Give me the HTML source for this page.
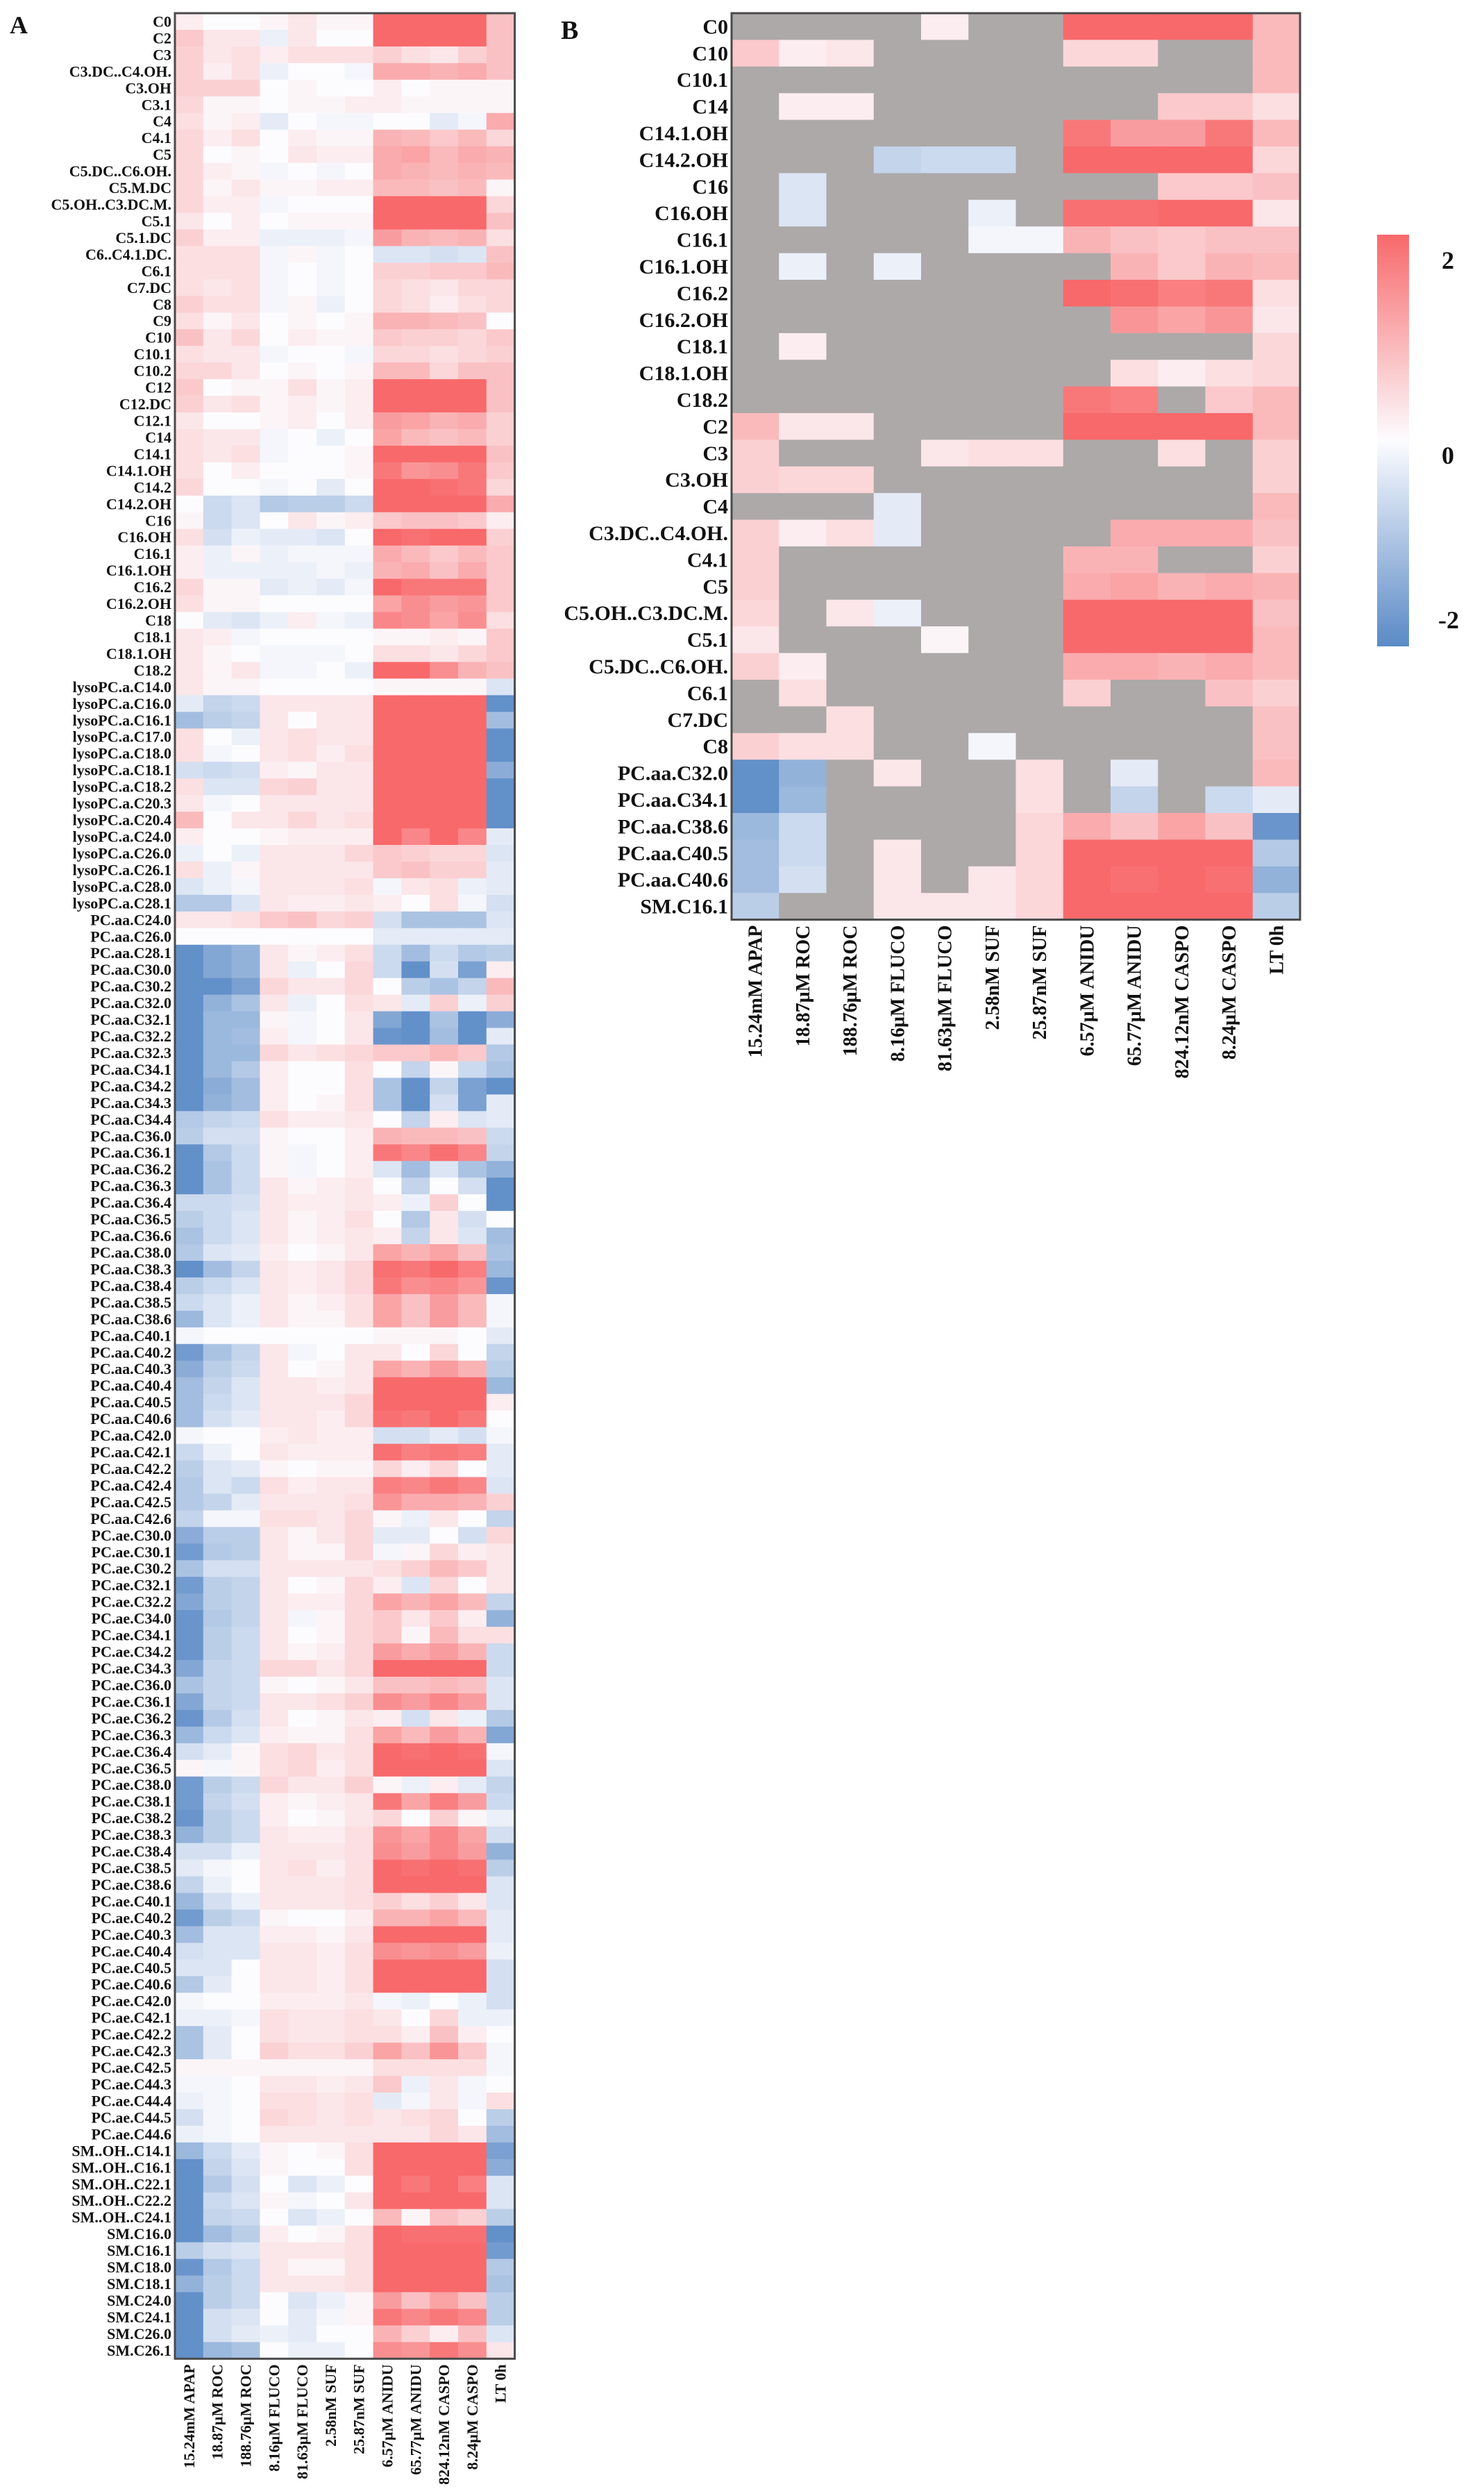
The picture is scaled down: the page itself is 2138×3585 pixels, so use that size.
<!DOCTYPE html>
<html><head><meta charset="utf-8"><style>
html,body{margin:0;padding:0;background:#fff;}
svg{display:block;}
text{font-family:"Liberation Serif",serif;font-weight:bold;fill:#111;}
</style></head><body>
<svg id="fig" width="2138" height="3585" viewBox="0 0 2138 3585" xmlns="http://www.w3.org/2000/svg">
<text x="14" y="48" font-size="36">A</text>
<text x="808" y="56" font-size="38">B</text>
<defs><linearGradient id="cbg" x1="0" y1="0" x2="0" y2="1">
<stop offset="0" stop-color="rgb(248,105,107)"/><stop offset="0.5" stop-color="rgb(252,252,255)"/><stop offset="1" stop-color="rgb(90,138,198)"/></linearGradient></defs>
<g>
<rect x="1984" y="338" width="46" height="593" fill="url(#cbg)"/>
<text x="2077" y="387" font-size="36">2</text>
<text x="2077" y="668" font-size="36">0</text>
<text x="2072" y="905" font-size="36">-2</text>
</g>
<g id="panelA"></g>
<g id="panelB"></g>
</svg>
<script>
const columns = ["15.24mM APAP","18.87µM ROC","188.76µM ROC","8.16µM FLUCO","81.63µM FLUCO","2.58nM SUF","25.87nM SUF","6.57µM ANIDU","65.77µM ANIDU","824.12nM CASPO","8.24µM CASPO","LT 0h"];
const rowsA = ["C0","C2","C3","C3.DC..C4.OH.","C3.OH","C3.1","C4","C4.1","C5","C5.DC..C6.OH.","C5.M.DC","C5.OH..C3.DC.M.","C5.1","C5.1.DC","C6..C4.1.DC.","C6.1","C7.DC","C8","C9","C10","C10.1","C10.2","C12","C12.DC","C12.1","C14","C14.1","C14.1.OH","C14.2","C14.2.OH","C16","C16.OH","C16.1","C16.1.OH","C16.2","C16.2.OH","C18","C18.1","C18.1.OH","C18.2",
"lysoPC.a.C14.0","lysoPC.a.C16.0","lysoPC.a.C16.1","lysoPC.a.C17.0","lysoPC.a.C18.0","lysoPC.a.C18.1","lysoPC.a.C18.2","lysoPC.a.C20.3","lysoPC.a.C20.4","lysoPC.a.C24.0","lysoPC.a.C26.0","lysoPC.a.C26.1","lysoPC.a.C28.0","lysoPC.a.C28.1",
"PC.aa.C24.0","PC.aa.C26.0","PC.aa.C28.1","PC.aa.C30.0","PC.aa.C30.2","PC.aa.C32.0","PC.aa.C32.1","PC.aa.C32.2","PC.aa.C32.3","PC.aa.C34.1","PC.aa.C34.2","PC.aa.C34.3","PC.aa.C34.4","PC.aa.C36.0","PC.aa.C36.1","PC.aa.C36.2","PC.aa.C36.3","PC.aa.C36.4","PC.aa.C36.5","PC.aa.C36.6","PC.aa.C38.0","PC.aa.C38.3","PC.aa.C38.4","PC.aa.C38.5","PC.aa.C38.6","PC.aa.C40.1","PC.aa.C40.2","PC.aa.C40.3","PC.aa.C40.4","PC.aa.C40.5","PC.aa.C40.6","PC.aa.C42.0","PC.aa.C42.1","PC.aa.C42.2","PC.aa.C42.4","PC.aa.C42.5","PC.aa.C42.6",
"PC.ae.C30.0","PC.ae.C30.1","PC.ae.C30.2","PC.ae.C32.1","PC.ae.C32.2","PC.ae.C34.0","PC.ae.C34.1","PC.ae.C34.2","PC.ae.C34.3","PC.ae.C36.0","PC.ae.C36.1","PC.ae.C36.2","PC.ae.C36.3","PC.ae.C36.4","PC.ae.C36.5","PC.ae.C38.0","PC.ae.C38.1","PC.ae.C38.2","PC.ae.C38.3","PC.ae.C38.4","PC.ae.C38.5","PC.ae.C38.6","PC.ae.C40.1","PC.ae.C40.2","PC.ae.C40.3","PC.ae.C40.4","PC.ae.C40.5","PC.ae.C40.6","PC.ae.C42.0","PC.ae.C42.1","PC.ae.C42.2","PC.ae.C42.3","PC.ae.C42.5","PC.ae.C44.3","PC.ae.C44.4","PC.ae.C44.5","PC.ae.C44.6",
"SM..OH..C14.1","SM..OH..C16.1","SM..OH..C22.1","SM..OH..C22.2","SM..OH..C24.1","SM.C16.0","SM.C16.1","SM.C18.0","SM.C18.1","SM.C24.0","SM.C24.1","SM.C26.0","SM.C26.1"];
const valsA = [
[.2,0,0,.1,.3,.1,.1,2,2,2,2,.8],[.7,.3,.3,-.2,.3,0,0,2,2,2,2,.8],[.6,.3,.4,.2,.4,.4,.4,.6,.4,.3,.6,.8],[.6,.2,.4,-.2,0,0,-.1,1.1,1.1,1,1.1,.8],[.6,.6,.6,0,.1,0,0,.2,0,.1,.1,.1],[.5,.1,.1,0,.1,.1,.2,.2,.1,.1,.1,.1],[.4,.1,.2,-.3,0,-.1,-.1,0,0,-.3,-.1,1.1],[.5,.2,.4,0,.2,.1,.1,1,.9,.7,.9,.5],[.5,0,.1,0,.3,.2,.2,1.1,1.2,.9,1.1,1],[.5,.2,.1,-.1,0,-.1,0,1.1,1,.9,1,.9],[.5,.1,.3,.1,.1,.2,.2,.9,.9,.8,.9,.1],[.5,.2,.2,-.1,0,0,0,2,2,2,2,.5],[.3,0,.2,0,.1,.1,.1,2,2,2,2,.8],[.6,.2,.2,-.2,-.2,-.2,-.1,1.3,1,.9,1,.4],[.4,.4,.4,-.1,.1,-.1,0,-.4,-.4,-.5,-.4,.8],[.4,.4,.4,-.1,0,-.1,0,.6,.6,.7,.7,.9],[.4,.3,.4,-.1,0,-.1,0,.5,.4,.3,.5,.5],[.6,.4,.4,-.1,.1,-.2,0,.5,.4,.2,.4,.5],[.4,.1,.3,0,.1,0,.1,1,1,.9,.8,0],[.8,.3,.5,0,.2,.1,.1,.7,.6,.6,.5,.7],[.4,.3,.3,-.1,0,0,-.1,.5,.5,.4,.5,.6],[.5,.5,.3,0,.1,0,.1,.9,.9,.5,.8,.8],[.7,0,.1,.1,.4,.1,.2,2,2,2,2,.8],[.6,.3,.4,.1,.2,.1,.2,2,2,2,2,.8],[.3,0,0,.1,.2,0,.2,1.3,1.2,1,1.1,.6],[.4,.3,.3,-.1,0,-.2,0,1.2,.9,.8,.9,.6],[.4,.3,.4,-.1,0,0,.1,2,2,2,2,.8],[.4,0,.2,0,0,0,.1,1.8,1.4,1.5,1.8,.7],[.5,0,0,-.1,0,-.3,0,2,2,1.9,1.8,.5],[0,-.6,-.4,-.9,-.8,-.8,-.6,2,2,2,2,1.1],[.1,-.6,-.4,0,.3,.1,.2,.7,.8,.8,.7,.2],[.4,-.5,-.2,-.3,-.3,-.4,0,2,1.9,2,2,.6],[.2,-.2,.1,-.2,-.1,-.1,-.1,1.1,.9,.7,.9,.7],[.2,-.2,-.2,-.2,-.2,-.1,-.2,1,1.1,.8,1.1,.7],[.5,.1,.1,-.3,-.2,-.3,-.1,2,1.8,1.8,1.8,.7],[.4,.1,.1,0,0,0,0,1.2,1.5,1.3,1.4,.7],[0,-.3,-.4,-.2,.2,-.1,-.2,1.6,1.5,1.2,1.5,.4],[.3,.2,-.1,0,0,0,0,.1,.1,.2,.1,.7],[.3,.1,0,-.1,-.1,-.1,0,.4,.4,.3,.5,.7],[.3,.1,.3,-.1,-.1,0,-.2,2,2,1.5,1,.8],
[.3,.1,.1,0,0,0,0,.1,.1,.1,.1,-.4],[-.3,-.7,-.6,.3,.3,.3,.3,2,2,2,2,-1.9],[-1.1,-.8,-.7,.3,0,.3,.3,2,2,2,2,-1.1],[.4,0,-.2,.3,.4,.3,.3,2,2,2,2,-1.9],[.4,-.1,0,.3,.4,.2,.4,2,2,2,2,-1.9],[-.5,-.6,-.5,.2,.1,.3,.3,2,2,2,2,-1.4],[.4,-.4,-.4,.5,.6,.3,.3,2,2,2,2,-1.9],[.3,-.1,0,.3,.3,.3,.3,2,2,2,2,-1.9],[.9,0,.3,.3,.5,.3,.4,2,2,2,2,-1.9],[.2,0,0,.1,.2,.2,.2,2,1.6,2,1.6,-.3],[-.2,0,-.2,.3,.3,.3,.5,.7,.6,.5,.5,-.4],[.4,-.2,.1,.3,.3,.3,.3,.7,.8,.6,.6,-.3],[-.4,-.2,-.1,.3,.3,.3,.4,-.1,.3,.4,-.2,-.3],[-.9,-.9,-.4,.3,.2,.2,.3,.2,0,.4,-.1,-.5],
[.3,.3,.4,.7,.8,.5,.6,-.5,-1,-1,-1,-.4],[0,0,0,0,0,0,0,-.3,-.3,-.3,-.3,-.3],[-1.9,-1.5,-1.3,.3,.1,.2,.4,-.6,-1.1,-.6,-.9,-.8],[-1.9,-1.5,-1.3,.3,-.2,0,.5,-.6,-1.9,-.5,-1.6,.2],[-1.9,-1.9,-1.6,.5,.3,.3,.5,0,-.8,-1,-.7,.9],[-1.9,-1.3,-1,.3,-.2,0,.4,.3,-.3,.6,-.2,.6],[-1.9,-1.2,-1.2,.1,-.1,0,.3,-1.5,-1.9,-1,-1.9,-1.4],[-1.9,-1.2,-1.1,.2,-.1,0,.3,-1.8,-1.9,-1.1,-1.9,-.3],[-1.9,-1.2,-1.2,.5,.3,.4,.5,.7,.7,.9,.7,-.9],[-1.9,-1.2,-.9,.2,0,0,.4,0,-.7,.1,-.6,-1],[-1.9,-1.4,-1.1,.2,0,0,.4,-1,-1.9,-.7,-1.6,-1.9],[-1.9,-1.3,-1.1,.2,0,.1,.4,-1,-1.9,-.5,-1.6,-.3],[-.9,-.7,-.6,.4,.2,.2,.3,0,-.7,.2,-.4,-.3],[-.8,-.5,-.5,.1,0,0,.2,1,.9,.9,.8,-.6],[-1.9,-.9,-.6,.1,-.1,0,.2,1.8,1.6,1.9,1.6,-.7],[-1.9,-1,-.6,.1,-.1,0,.2,-.4,-1.1,-.4,-1,-1.3],[-1.9,-1,-.6,.3,.1,.2,.3,0,-.7,0,-.5,-1.9],[-.6,-.6,-.5,.3,.2,.2,.3,.2,-.2,.6,0,-1.9],[-.8,-.6,-.4,.3,.1,.2,.4,0,-.9,.3,-.5,0],[-1,-.6,-.4,.3,.1,.2,.3,.2,-.7,.3,-.4,-1.1],[-.9,-.4,-.3,.2,0,.1,.3,1.2,1,1.2,.8,-1],[-1.9,-1.1,-.7,.3,.2,.3,.5,1.9,1.8,2,1.7,-1.2],[-.8,-.6,-.4,.3,.2,.3,.5,1.8,1.5,1.6,1.4,-1.8],[-.6,-.4,-.2,.3,.1,.2,.4,1.2,.8,1.3,.9,-.1],[-1.2,-.4,-.2,.3,.1,.1,.4,1.2,.8,1.3,.9,-.1],[-.1,0,0,0,0,0,0,.1,.1,.1,0,-.3],[-1.7,-1,-.7,.3,-.1,0,.3,.3,0,.5,0,-.7],[-1.4,-.8,-.6,.3,0,.1,.3,1.2,1,1.3,1,-.8],[-1.1,-.7,-.4,.3,.3,.2,.3,2,2,2,2,-1.2],[-1.1,-.6,-.4,.3,.3,.3,.5,2,2,2,2,.2],[-1.1,-.5,-.3,.3,.3,.2,.5,1.9,1.8,2,1.8,0],[-.1,0,0,.2,.3,.2,.2,-.5,-.5,-.3,-.5,-.1],[-.6,-.2,0,.3,.2,.2,.2,1.9,1.7,1.8,1.7,-.3],[-.8,-.4,-.3,.1,0,.1,.1,.5,.2,.5,0,-.3],[-.9,-.4,-.6,.4,.2,.3,.3,1.7,1.6,1.8,1.6,-.4],[-.9,-.7,-.3,.3,.3,.3,.4,1.4,1.1,1.1,1,.6],[-.7,-.1,-.1,.4,.4,.3,.5,.1,-.2,.3,0,-.7],
[-1.4,-.8,-.8,.3,.1,.3,.5,-.3,-.3,0,-.5,.5],[-1.7,-.9,-.8,.3,.1,.1,.5,-.1,.1,.5,.2,.3],[-1,-.5,-.5,.3,.3,.3,.3,.4,.6,.9,.7,.3],[-1.7,-.8,-.7,.3,0,.1,.5,.2,-.4,.5,0,.3],[-1.5,-.8,-.7,.3,.2,.2,.5,1.2,1,1.2,.9,-.7],[-1.8,-.9,-.7,.3,-.1,.1,.5,.7,.3,.7,.2,-1.3],[-1.8,-.8,-.6,.3,0,.1,.5,.7,.1,.9,.4,.4],[-1.8,-.8,-.6,.3,.1,.2,.5,1.3,1.1,1.3,1,-.6],[-1.5,-.7,-.6,.5,.5,.3,.5,2,2,2,2,-.6],[-1,-.7,-.6,.1,0,.1,.3,.8,.8,.9,.8,-.4],[-1.5,-.7,-.6,.3,.3,.4,.6,1.5,1.3,1.6,1.3,-.4],[-1.8,-.9,-.5,.3,0,.1,.3,.2,-.5,.3,-.2,-.9],[-1.2,-.6,-.4,.2,.1,.1,.4,1.2,.9,1.3,1,-1.5],[-.5,-.3,.1,.4,.5,.3,.4,2,1.9,2,1.9,-.1],[.1,-.1,.1,.4,.5,.2,.4,2,2,2,2,-.4],[-1.7,-.8,-.6,.5,.3,.3,.6,.1,-.2,.2,-.3,-.7],[-1.7,-.7,-.5,.2,.1,.2,.3,1.8,1.2,1.7,1.3,-.6],[-1.8,-.8,-.6,.2,0,.1,.3,.5,0,.6,.1,-.2],[-1.3,-.8,-.6,.3,.2,.2,.4,1.4,1.2,1.6,1.2,-.5],[-.5,-.5,-.2,.3,.3,.3,.4,1.5,1.3,1.6,1.3,-1.3],[-.3,-.1,0,.3,.4,.2,.4,2,1.9,2,1.9,-.8],[-.7,-.2,0,.3,.3,.3,.4,2,2,2,2,-.4],[-1.2,-.5,-.2,.3,.3,.3,.4,.6,.4,.6,.3,-.4],[-1.7,-.8,-.6,.1,0,0,.2,1,1,1.2,.9,-.3],[-1.1,-.4,-.4,.2,.2,.1,.3,2,2,2,2,-.3],[-.5,-.4,-.4,.3,.3,.2,.4,1.5,1.4,1.5,1.3,-.2],[-.4,-.4,0,.3,.3,.2,.4,2,2,2,2,-.5],[-.9,-.3,0,.3,.3,.2,.4,2,2,2,2,-.5],[-.1,0,0,.2,.2,.2,.3,-.1,-.2,0,-.2,-.5],[-.2,-.2,-.1,.4,.3,.3,.4,.3,0,.5,-.2,-.2],[-1,-.3,0,.4,.3,.3,.4,.4,.2,.8,.2,0],[-1,-.3,0,.6,.4,.4,.6,1.2,.8,1.4,.7,-.1],[.1,.1,.1,.1,.1,.1,.1,.4,.4,.4,.4,-.1],[-.1,-.1,0,.3,.3,.2,.3,.7,-.2,.3,-.1,0],[-.2,-.1,0,.4,.4,.3,.4,-.3,-.1,.3,-.1,.4],[-.5,-.1,0,.5,.4,.3,.4,.3,.4,.5,0,-.8],[-.2,-.1,0,.3,.3,.3,.3,.3,.3,.5,.3,-1.1],
[-1.2,-.6,-.3,.1,0,.1,.4,2,2,2,2,-1.6],[-1.9,-.7,-.4,.1,0,0,.4,2,2,2,2,-1.4],[-1.9,-.9,-.5,0,-.4,-.2,0,2,1.8,2,1.7,-.4],[-1.9,-.6,-.4,.1,-.1,0,.3,2,2,2,2,-.4],[-1.9,-.7,-.6,0,-.4,-.2,0,.9,.1,.8,.6,-.8],[-1.9,-1.1,-.8,.2,0,.1,.4,2,1.9,1.9,1.9,-1.9],[-.8,-.5,-.4,.3,.3,.3,.4,2,2,2,2,-1.7],[-1.8,-.9,-.6,.3,.1,.1,.4,2,2,2,2,-.9],[-1.3,-.8,-.6,.3,.3,.3,.4,2,2,2,2,-1],[-1.9,-.8,-.6,0,-.4,-.2,.1,1.3,.8,1.2,.8,-.8],[-1.9,-.5,-.4,0,-.3,-.1,.1,1.8,1.6,1.8,1.6,-.8],[-1.9,-.5,-.3,-.2,-.3,0,0,1,.6,.2,.8,-.4],[-1.9,-1.2,-1,0,-.2,-.2,0,1.5,1.4,1.8,1.5,.3]];
const N = null;
const rowsB = ["C0","C10","C10.1","C14","C14.1.OH","C14.2.OH","C16","C16.OH","C16.1","C16.1.OH","C16.2","C16.2.OH","C18.1","C18.1.OH","C18.2","C2","C3","C3.OH","C4","C3.DC..C4.OH.","C4.1","C5","C5.OH..C3.DC.M.","C5.1","C5.DC..C6.OH.","C6.1","C7.DC","C8","PC.aa.C32.0","PC.aa.C34.1","PC.aa.C38.6","PC.aa.C40.5","PC.aa.C40.6","SM.C16.1"];
const valsB = [
[N,N,N,N,.2,N,N,2,2,2,2,.9],[.7,.2,.3,N,N,N,N,.5,.5,N,N,.9],[N,N,N,N,N,N,N,N,N,N,N,.9],[N,.2,.2,N,N,N,N,N,N,.7,.7,.4],[N,N,N,N,N,N,N,1.8,1.3,1.3,1.8,.9],[N,N,N,-.7,-.6,-.6,N,2,2,2,2,.5],[N,-.4,N,N,N,N,N,N,N,.7,.7,.8],[N,-.4,N,N,N,-.2,N,1.9,1.9,2,2,.3],[N,N,N,N,N,-.1,-.1,1,.8,.7,.8,.8],[N,-.2,N,-.2,N,N,N,N,1,.7,1,.9],[N,N,N,N,N,N,N,2,1.9,1.7,1.8,.4],[N,N,N,N,N,N,N,N,1.4,1.2,1.4,.3],[N,.2,N,N,N,N,N,N,N,N,N,.5],[N,N,N,N,N,N,N,N,.4,.2,.4,.5],[N,N,N,N,N,N,N,1.8,1.7,N,.7,.9],[.9,.3,.3,N,N,N,N,2,2,2,2,.9],[.6,N,N,N,.3,.4,.4,N,N,.4,N,.6],[.6,.5,.5,N,N,N,N,N,N,N,N,.6],[N,N,N,-.3,N,N,N,N,N,N,N,.9],[.6,.2,.4,-.3,N,N,N,N,1.1,1.1,1.1,.8],[.6,N,N,N,N,N,N,1,1,N,N,.6],[.6,N,N,N,N,N,N,1.1,1.2,1,1.1,1],[.5,N,.3,-.2,N,N,N,2,2,2,2,.8],[.3,N,N,N,.1,N,N,2,2,2,2,.9],[.6,.2,N,N,N,N,N,1.1,1.1,1,1.1,.9],[N,.4,N,N,N,N,N,.6,N,N,.8,.6],[N,N,.4,N,N,N,N,N,N,N,N,.8],[.6,.4,.4,N,N,-.1,N,N,N,N,N,.8],[-1.9,-1.3,N,.3,N,N,.4,N,-.3,N,N,.9],[-1.9,-1.2,N,N,N,N,.4,N,-.7,N,-.6,-.3],[-1.2,-.6,N,N,N,N,.5,1.1,.8,1.2,.8,-1.8],[-1.1,-.6,N,.3,N,N,.5,2,2,2,2,-.9],[-1.1,-.5,N,.3,N,.3,.5,2,1.9,2,1.9,-1.3],[-.8,N,N,.3,.3,.3,.5,2,2,2,2,-.8]];

const NS = "http://www.w3.org/2000/svg";
function color(v){
  if(v===null) return "rgb(173,169,169)";
  const t=Math.max(-2,Math.min(2,v))/2;
  const w=[252,252,255], r=[248,105,107], b=[90,138,198];
  const e = t>=0 ? r : b, a=Math.abs(t);
  return "rgb("+w.map((c,i)=>Math.round(c+(e[i]-c)*a)).join(",")+")";
}
function mk(tag, attrs, parent){
  const el=document.createElementNS(NS,tag);
  for(const k in attrs) el.setAttribute(k,attrs[k]);
  parent.appendChild(el); return el;
}
function drawPanel(g, rows, vals, x0, y0, cw, rh, rowFont, colFont, prefix){
  const xAt = j => x0 + j*cw;
  const yAt = i => y0 + i*rh;
  vals.forEach((row,i)=>{
    row.forEach((v,j)=>{
      const r=mk("rect",{x:xAt(j).toFixed(2),y:yAt(i).toFixed(2),width:(cw+0.6).toFixed(2),height:(rh+0.6).toFixed(2),fill:color(v)},g);
      
      
    });
  });
  const fr=mk("rect",{x:x0,y:y0,width:cw*columns.length,height:rh*rows.length,fill:"none",stroke:"#4a4a4a","stroke-width":3},g);
  
  
  rows.forEach((lab,i)=>{
    const t=mk("text",{x:x0-5,y:(yAt(i)+rh/2+rowFont*0.34).toFixed(2),"font-size":rowFont,"text-anchor":"end"},g);
    t.textContent=lab;
    
    
  });
  columns.forEach((lab,j)=>{
    const cx=xAt(j)+cw/2+colFont*0.34, cy=y0+rh*rows.length+8;
    const t=mk("text",{x:cx.toFixed(2),y:cy.toFixed(2),"font-size":colFont,"text-anchor":"end",transform:"rotate(-90 "+cx.toFixed(2)+" "+cy.toFixed(2)+")"},g);
    t.textContent=lab;
    
    
  });
}
drawPanel(document.getElementById("panelA"), rowsA, valsA, 252, 19, 40.8, 23.96, 22, 22, "a");
drawPanel(document.getElementById("panelB"), rowsB, valsB, 1054, 19, 68.25, 38.4, 30, 28, "b");
</script>
</body></html>
